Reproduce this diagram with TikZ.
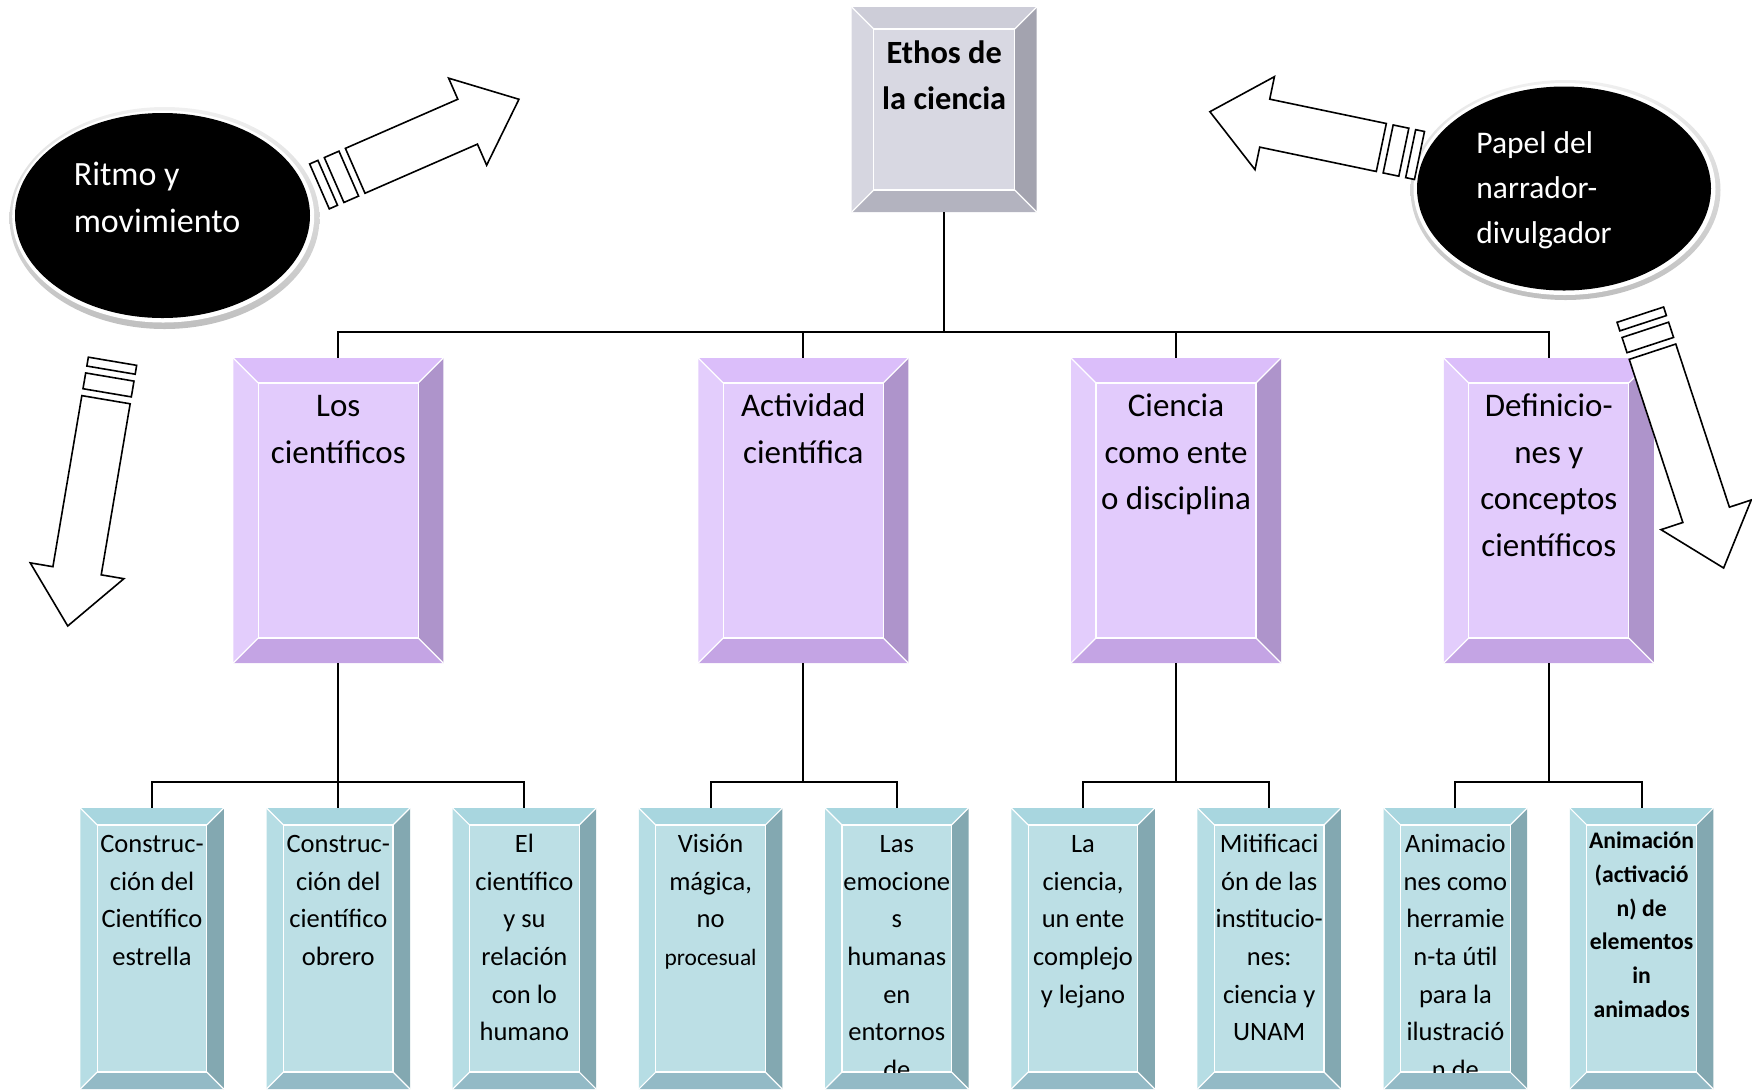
\documentclass[tikz,border=0pt]{standalone}
\usepackage{fontspec}
\setmainfont{Carlito}
\usetikzlibrary{calc,shapes.geometric}

\definecolor{puface}{HTML}{E2CBFC}
\definecolor{putop}{HTML}{DBBEFA}
\definecolor{puleft}{HTML}{E3CDFC}
\definecolor{puright}{HTML}{AE94CB}
\definecolor{pubot}{HTML}{C4A4E4}
\definecolor{blface}{HTML}{BCDFE5}
\definecolor{bltop}{HTML}{A8D6DF}
\definecolor{blleft}{HTML}{B6DDE4}
\definecolor{blright}{HTML}{83A8B1}
\definecolor{blbot}{HTML}{93BAC6}
\definecolor{grface}{HTML}{D8D8E2}
\definecolor{grtop}{HTML}{CDCDD8}
\definecolor{grleft}{HTML}{D6D6E0}
\definecolor{grright}{HTML}{A3A3AF}
\definecolor{grbot}{HTML}{B3B3BF}

\tikzset{
  conn/.style={draw=black, line width=1pt},
  bevline/.style={draw=white, line width=0.6pt},
  arr/.style={draw=black, fill=white, line width=0.8pt, line join=miter},
  lvlone/.style={font=\bfseries\fontsize{16.2pt}{22.9pt}\selectfont, align=center, inner sep=0, anchor=north},
  lvltwo/.style={font=\fontsize{16.5pt}{23.25pt}\selectfont, align=center, inner sep=0, anchor=north},
  lvlthree/.style={font=\fontsize{13.25pt}{18.85pt}\selectfont, align=center, inner sep=0, anchor=north},
  lvlthreeb/.style={font=\bfseries\fontsize{11.85pt}{16.95pt}\selectfont, align=center, inner sep=0, anchor=north},
  ovaltext/.style={text=white, align=left, inner sep=0, anchor=north west},
}

\newcommand\firstln[1]{\rule{0pt}{#1}}

% #1 name #2 cx #3 top #4 w #5 h #6 bevel #7 palette #8 text style #9 text
\newcommand\bevelbox[9]{%
  \node[inner sep=0, outer sep=0, minimum width={#4*0.5pt}, minimum height={#5*0.5pt}, anchor=north] (#1) at (#2,#3) {};
  \coordinate (#1-inw) at ($(#1.north west)+(#6,#6)$);
  \coordinate (#1-ine) at ($(#1.north east)+(-#6,#6)$);
  \coordinate (#1-isw) at ($(#1.south west)+(#6,-#6)$);
  \coordinate (#1-ise) at ($(#1.south east)+(-#6,-#6)$);
  \fill[#7face] (#1-inw) rectangle (#1-ise);
  \fill[#7top] (#1.north west) -- (#1.north east) -- (#1-ine) -- (#1-inw) -- cycle;
  \fill[#7left] (#1.north west) -- (#1-inw) -- (#1-isw) -- (#1.south west) -- cycle;
  \fill[#7right] (#1.north east) -- (#1.south east) -- (#1-ise) -- (#1-ine) -- cycle;
  \fill[#7bot] (#1.south west) -- (#1-isw) -- (#1-ise) -- (#1.south east) -- cycle;
  \draw[bevline] (#1-inw) rectangle (#1-ise);
  \draw[bevline] (#1.north west) -- (#1-inw) (#1.north east) -- (#1-ine)
                 (#1.south west) -- (#1-isw) (#1.south east) -- (#1-ise);
  \begin{scope}
    \clip (#1-inw) rectangle (#1-ise);
    \node[#8] (#1-txt) at ($(#1-inw)!0.5!(#1-ine)$) {#9};
  \end{scope}
}

% #1,#2 tail centre, #3 angle, #4 length
\newcommand\stripedarrow[4]{%
  \begin{scope}[shift={(#1,#2)}, rotate=#3]
    \draw[arr] (0,-24.5) -- (#4-56,-24.5) -- (#4-56,-47.5) -- (#4,0) -- (#4-56,47.5) -- (#4-56,24.5) -- (0,24.5) -- cycle;
    \draw[arr] (-7,-24.5) rectangle (-23,24.5);
    \draw[arr] (-30,-24.5) rectangle (-39,24.5);
  \end{scope}}

\begin{document}
\begin{tikzpicture}[x=0.5pt, y=-0.5pt]
\useasboundingbox (0,0) rectangle (1752,1089);

% top
\bevelbox{ethos}{944.2}{7}{185}{205}{22}{gr}{lvlone}{\firstln{16.9pt}Ethos de\\la ciencia}

% level 2
\bevelbox{los}{338.3}{358}{210}{305}{25}{pu}{lvltwo}{\firstln{16.7pt}Los\\científicos}
\bevelbox{act}{803.3}{358}{210}{305}{25}{pu}{lvltwo}{\firstln{16.7pt}Actividad\\científica}
\bevelbox{cie}{1176}{358}{210}{305}{25}{pu}{lvltwo}{\firstln{16.7pt}Ciencia\\como ente\\o disciplina}
\bevelbox{def}{1548.8}{358}{210}{305}{25}{pu}{lvltwo}{\firstln{16.7pt}Definicio-\\nes y\\conceptos\\científicos}

% level 3
\bevelbox{c1}{152}{808}{143.5}{281}{17}{bl}{lvlthree}{\firstln{13.5pt}Construc-\\ción del\\Científico\\estrella}
\bevelbox{c2}{338.3}{808}{143.5}{281}{17}{bl}{lvlthree}{\firstln{13.5pt}Construc-\\ción del\\científico\\obrero}
\bevelbox{c3}{524.4}{808}{143.5}{281}{17}{bl}{lvlthree}{\firstln{13.5pt}El\\científico\\y su\\relación\\con lo\\humano}
\bevelbox{c4}{710.6}{808}{143.5}{281}{17}{bl}{lvlthree}{\firstln{13.5pt}Visión\\mágica,\\no\\{\fontsize{11.7pt}{18.85pt}\selectfont procesual}}
\bevelbox{c5}{896.8}{808}{143.5}{281}{17}{bl}{lvlthree}{\firstln{13.5pt}Las\\emocione\\s\\humanas\\en\\entornos\\de}
\bevelbox{c6}{1083}{808}{143.5}{281}{17}{bl}{lvlthree}{\firstln{13.5pt}La\\ciencia,\\un ente\\complejo\\y lejano}
\bevelbox{c7}{1269.2}{808}{143.5}{281}{17}{bl}{lvlthree}{\firstln{13.5pt}Mitificaci\\ón de las\\institucio-\\nes:\\ciencia y\\UNAM}
\bevelbox{c8}{1455.4}{808}{143.5}{281}{17}{bl}{lvlthree}{\firstln{13.5pt}Animacio\\nes como\\herramie\\n-ta útil\\para la\\ilustració\\n de}
\bevelbox{c9}{1641.6}{808}{143.5}{281}{17}{bl}{lvlthreeb}{\firstln{11.4pt}Animación\\(activació\\n) de\\elementos\\in\\animados}

% connectors
\path (ethos.south) ++(0,119.8) coordinate (jt);
\draw[conn] (ethos.south) -- (jt);
\draw[conn] (jt) -| (los.north);
\draw[conn] (jt) -| (act.north);
\draw[conn] (jt) -| (cie.north);
\draw[conn] (jt) -| (def.north);

\path (los.south) ++(0,119) coordinate (j1);
\draw[conn] (los.south) -- (j1);
\draw[conn] (j1) -| (c1.north);
\draw[conn] (j1) -| (c2.north);
\draw[conn] (j1) -| (c3.north);

\path (act.south) ++(0,119) coordinate (j2);
\draw[conn] (act.south) -- (j2);
\draw[conn] (j2) -| (c4.north);
\draw[conn] (j2) -| (c5.north);

\path (cie.south) ++(0,119) coordinate (j3);
\draw[conn] (cie.south) -- (j3);
\draw[conn] (j3) -| (c6.north);
\draw[conn] (j3) -| (c7.north);

\path (def.south) ++(0,119) coordinate (j4);
\draw[conn] (def.south) -- (j4);
\draw[conn] (j4) -| (c8.north);
\draw[conn] (j4) -| (c9.north);

% left oval
\shade[top color=gray!12, bottom color=gray!50] (164.5,218) ellipse [x radius=155, y radius=111];
\fill[white] (163.2,216.5) ellipse [x radius=151, y radius=106];
\node[ellipse, fill=black, inner sep=0, minimum width={295*0.5pt}, minimum height={205*0.5pt}] (ritmo) at (162.5,215.5) {};
\node[ovaltext, font=\fontsize{17pt}{23.35pt}\selectfont] (ritmo-txt) at (73.4,151) {\firstln{17pt}Ritmo y\\movimiento};

% right oval
\shade[top color=gray!12, bottom color=gray!50] (1565.5,190) ellipse [x radius=155, y radius=110];
\fill[white] (1564.5,189) ellipse [x radius=151, y radius=106];
\node[ellipse, fill=black, inner sep=0, minimum width={294*0.5pt}, minimum height={204*0.5pt}] (papel) at (1564,188.5) {};
\node[ovaltext, font=\fontsize{15.75pt}{22.5pt}\selectfont] (papel-txt) at (1476,121.2) {\firstln{15.75pt}Papel del\\narrador-\\divulgador};

% striped block arrows
\stripedarrow{355.2}{170.8}{23.6}{178.7}
\stripedarrow{1381.3}{147.5}{168.2}{175.1}
\stripedarrow{1652.5}{351.7}{-71.8}{227.7}
\stripedarrow{106}{399.7}{-99.6}{229.5}

\end{tikzpicture}
\end{document}
